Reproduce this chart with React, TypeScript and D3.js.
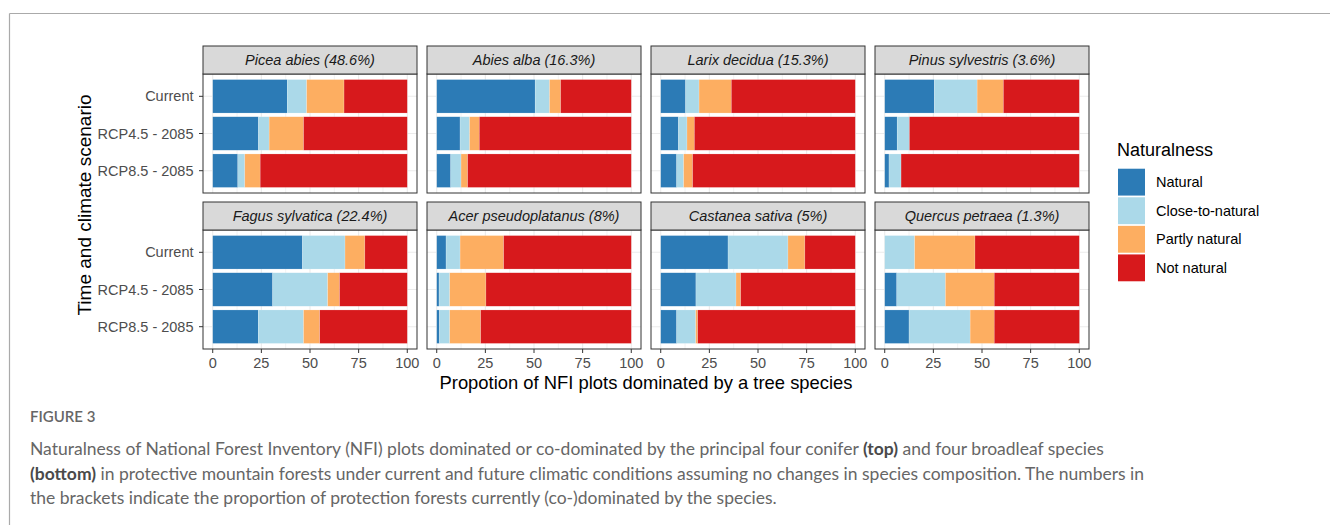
import { useEffect, useRef } from "react";
import * as d3 from "d3";

const species = [
  "Picea abies (48.6%)",
  "Abies alba (16.3%)",
  "Larix decidua (15.3%)",
  "Pinus sylvestris (3.6%)",
  "Fagus sylvatica (22.4%)",
  "Acer pseudoplatanus (8%)",
  "Castanea sativa (5%)",
  "Quercus petraea (1.3%)",
];
const scenarios = ["Current", "RCP4.5 - 2085", "RCP8.5 - 2085"];
const classes = ["Natural", "Close-to-natural", "Partly natural", "Not natural"];
const classColors = ["#2C7BB6", "#ABD9E9", "#FDAE61", "#D7191C"];
const xTicks = [0, 25, 50, 75, 100];

// share per species (rows) and scenario (columns)
const natural = [
  [38.3, 23.5, 12.9],
  [50.6, 12.0, 7.2],
  [12.8, 9.1, 8.2],
  [25.5, 6.4, 2.2],
  [46.1, 30.8, 23.4],
  [4.8, 1.2, 1.4],
  [34.6, 18.1, 8.2],
  [0, 6.2, 12.5],
];
const closeToNatural = [
  [10.0, 5.5, 3.6],
  [7.4, 4.9, 5.3],
  [6.9, 4.4, 3.6],
  [22.0, 6.3, 6.2],
  [21.9, 28.3, 23.3],
  [7.2, 5.5, 5.3],
  [30.8, 20.6, 9.8],
  [15.4, 25.0, 31.4],
];
const partlyNatural = [
  [19.2, 17.7, 7.9],
  [5.7, 5.0, 3.4],
  [16.6, 3.8, 4.6],
  [13.5, 0, 0],
  [10.2, 6.1, 8.3],
  [22.4, 18.6, 15.9],
  [8.7, 2.4, 1.0],
  [31.0, 25.1, 12.4],
];
const notNatural = [
  [32.5, 53.3, 75.6],
  [36.3, 78.1, 84.1],
  [63.7, 82.7, 83.6],
  [39.0, 87.3, 91.6],
  [21.8, 34.8, 45.0],
  [65.6, 74.7, 77.4],
  [25.9, 58.9, 81.0],
  [53.6, 43.7, 43.8],
];

const W = 1330;
const H = 525;
const FONT = "'Liberation Sans', Arial, sans-serif";
const CAP_FONT = "Lato, 'Open Sans', sans-serif";

export default function App() {
  const ref = useRef<SVGSVGElement>(null);

  useEffect(() => {
    const svg = d3.select(ref.current);
    svg.selectAll("*").remove();

    // outer frame lines
    svg.append("line").attr("x1", 9.5).attr("x2", W).attr("y1", 13.5).attr("y2", 13.5)
      .attr("stroke", "#aaaaaa").attr("stroke-width", 1.2);
    svg.append("line").attr("x1", 9.5).attr("x2", 9.5).attr("y1", 13.5).attr("y2", H)
      .attr("stroke", "#aaaaaa").attr("stroke-width", 1.2);

    const panelW = 214;
    const gapX = 10;
    const left0 = 203;
    const stripH = 28;
    const plotH = 119;
    const rowTops = [46, 202];

    const tableFor = (i: number) =>
      scenarios.map((s, j) => ({
        scenario: s,
        [classes[0]]: natural[i][j],
        [classes[1]]: closeToNatural[i][j],
        [classes[2]]: partlyNatural[i][j],
        [classes[3]]: notNatural[i][j],
      }));

    const stack = d3.stack<any>().keys(classes);
    const color = d3.scaleOrdinal<string, string>().domain(classes).range(classColors);

    species.forEach((sp, i) => {
      const col = i % 4;
      const row = Math.floor(i / 4);
      const x0 = left0 + col * (panelW + gapX);
      const top = rowTops[row];
      const py = top + stripH;

      const x = d3.scaleLinear().domain([-5, 105]).range([x0, x0 + panelW]);
      const y = d3.scaleBand().domain(scenarios).range([py, py + plotH])
        .paddingInner(0.1).paddingOuter(0.15);

      const g = svg.append("g");
      g.append("rect").attr("x", x0).attr("y", py).attr("width", panelW).attr("height", plotH)
        .attr("fill", "#ffffff");

      // grid
      const minor = [12.5, 37.5, 62.5, 87.5];
      g.selectAll(".minor").data(minor).enter().append("line")
        .attr("x1", (d) => x(d)).attr("x2", (d) => x(d))
        .attr("y1", py).attr("y2", py + plotH)
        .attr("stroke", "#EBEBEB").attr("stroke-width", 0.6);
      g.selectAll(".major").data(xTicks).enter().append("line")
        .attr("x1", (d) => x(d)).attr("x2", (d) => x(d))
        .attr("y1", py).attr("y2", py + plotH)
        .attr("stroke", "#EBEBEB").attr("stroke-width", 1.1);
      g.selectAll(".hmajor").data(scenarios).enter().append("line")
        .attr("x1", x0).attr("x2", x0 + panelW)
        .attr("y1", (d) => (y(d) as number) + y.bandwidth() / 2)
        .attr("y2", (d) => (y(d) as number) + y.bandwidth() / 2)
        .attr("stroke", "#EBEBEB").attr("stroke-width", 1.1);

      // bars
      const series = stack(tableFor(i));
      series.forEach((s) => {
        g.selectAll(null).data(s).enter().append("rect")
          .attr("x", (d) => x(d[0]))
          .attr("y", (d) => y(d.data.scenario) as number)
          .attr("width", (d) => Math.max(0, x(d[1]) - x(d[0])))
          .attr("height", y.bandwidth())
          .attr("fill", color(s.key))
          .attr("stroke", "#ffffff")
          .attr("stroke-opacity", 0.35)
          .attr("stroke-width", 0.5);
      });

      // panel border
      g.append("rect").attr("x", x0).attr("y", py).attr("width", panelW).attr("height", plotH)
        .attr("fill", "none").attr("stroke", "#333333").attr("stroke-width", 1);

      // strip
      g.append("rect").attr("x", x0).attr("y", top).attr("width", panelW).attr("height", stripH)
        .attr("fill", "#D9D9D9").attr("stroke", "#333333").attr("stroke-width", 1);
      g.append("text").attr("x", x0 + panelW / 2).attr("y", top + stripH / 2 + 5)
        .attr("text-anchor", "middle").attr("font-family", FONT).attr("font-size", 14.5)
        .attr("font-style", "italic").attr("fill", "#1A1A1A").text(sp);

      // y axis on first column
      if (col === 0) {
        scenarios.forEach((s) => {
          const cy = (y(s) as number) + y.bandwidth() / 2;
          g.append("line").attr("x1", x0 - 4).attr("x2", x0).attr("y1", cy).attr("y2", cy)
            .attr("stroke", "#333333").attr("stroke-width", 1);
          g.append("text").attr("x", x0 - 9.5).attr("y", cy + 5).attr("text-anchor", "end")
            .attr("font-family", FONT).attr("font-size", 14.5).attr("fill", "#4D4D4D").text(s);
        });
      }
      // x axis on bottom row
      if (row === 1) {
        xTicks.forEach((t) => {
          g.append("line").attr("x1", x(t)).attr("x2", x(t))
            .attr("y1", py + plotH).attr("y2", py + plotH + 4)
            .attr("stroke", "#333333").attr("stroke-width", 1);
          g.append("text").attr("x", x(t)).attr("y", py + plotH + 19).attr("text-anchor", "middle")
            .attr("font-family", FONT).attr("font-size", 14.5).attr("fill", "#4D4D4D").text(t);
        });
      }
    });

    // axis titles
    svg.append("text").attr("x", 646).attr("y", 389).attr("text-anchor", "middle")
      .attr("font-family", FONT).attr("font-size", 18.4).attr("fill", "#000")
      .text("Propotion of NFI plots dominated by a tree species");
    svg.append("text").attr("transform", "translate(91,205) rotate(-90)")
      .attr("text-anchor", "middle").attr("font-family", FONT).attr("font-size", 19)
      .attr("fill", "#000").text("Time and climate scenario");

    // legend
    const lg = svg.append("g");
    lg.append("text").attr("x", 1117).attr("y", 156).attr("font-family", FONT)
      .attr("font-size", 18).attr("fill", "#000").text("Naturalness");
    const ly = d3.scaleBand().domain(classes).range([167, 283]).padding(0.06);
    classes.forEach((c) => {
      lg.append("rect").attr("x", 1118).attr("y", ly(c) as number)
        .attr("width", 27).attr("height", ly.bandwidth()).attr("fill", color(c));
      lg.append("text").attr("x", 1156).attr("y", (ly(c) as number) + ly.bandwidth() / 2 + 5)
        .attr("font-family", FONT).attr("font-size", 14.5).attr("fill", "#000").text(c);
    });

    // caption
    svg.append("text").attr("x", 30).attr("y", 422).attr("font-family", CAP_FONT)
      .attr("font-size", 15).attr("font-weight", 600).attr("fill", "#666666").text("FIGURE 3");
    const lines: [string, boolean][][] = [
      [["Naturalness of National Forest Inventory (NFI) plots dominated or co-dominated by the principal four conifer ", false], ["(top)", true], [" and four broadleaf species", false]],
      [["(bottom)", true], [" in protective mountain forests under current and future climatic conditions assuming no changes in species composition. The numbers in", false]],
      [["the brackets indicate the proportion of protection forests currently (co-)dominated by the species.", false]],
    ];
    lines.forEach((ln, k) => {
      const t = svg.append("text").attr("x", 30).attr("y", 455 + k * 24.5)
        .attr("font-family", CAP_FONT).attr("font-size", 17.5).attr("fill", "#666666");
      ln.forEach(([s, b]) => {
        t.append("tspan").attr("font-weight", b ? 700 : 400).attr("fill", b ? "#4a4a4a" : "#666666").text(s);
      });
    });
  }, []);

  return (
    <svg
      ref={ref}
      width={W}
      height={H}
      style={{ position: "absolute", left: 0, top: 0, background: "#fff" }}
    />
  );
}
